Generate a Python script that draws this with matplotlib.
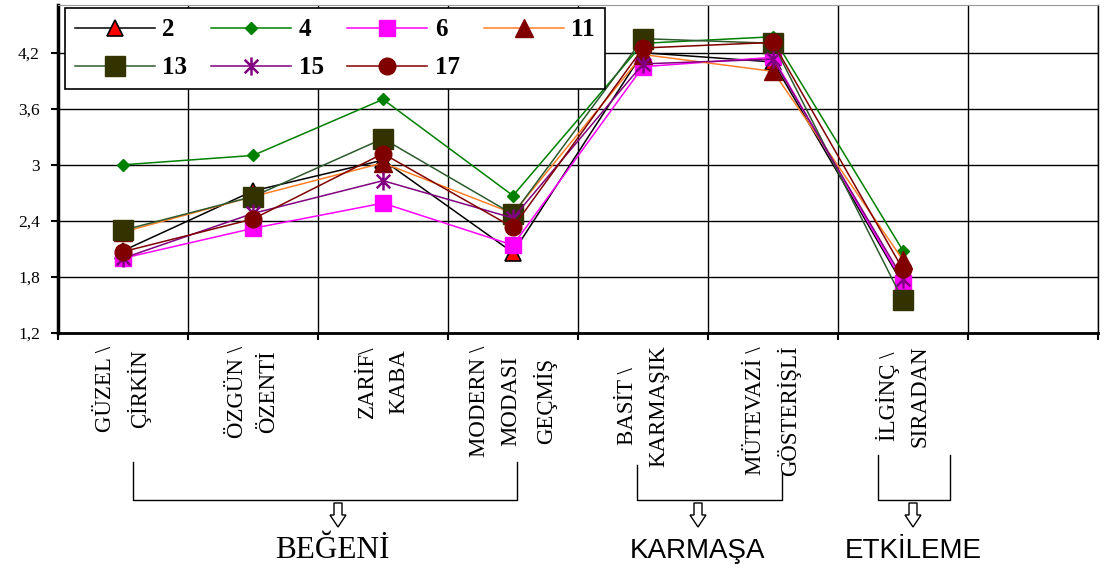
import numpy as np
import matplotlib
matplotlib.use("Agg")
import matplotlib.pyplot as plt
from matplotlib.path import Path
from matplotlib.lines import Line2D
from matplotlib.patches import Polygon
from matplotlib.ticker import FuncFormatter

# --- dane ---
kategorie = ["GÜZEL \\\nÇİRKİN", "ÖZGÜN \\\nÖZENTİ", "ZARİF\\\nKABA",
             "MODERN \\\nMODASI\nGEÇMİŞ", "BASİT \\\nKARMAŞIK",
             "MÜTEVAZİ \\\nGÖSTERİŞLİ", "İLGİNÇ \\\nSIRADAN"]
etykiety_serii = ["2", "4", "6", "11", "13", "15", "17"]
s2 = [2.08, 2.72, 3.05, 2.06, 4.20, 4.10, 1.72]
s4 = [3.00, 3.10, 3.70, 2.67, 4.30, 4.37, 2.08]
s6 = [2.00, 2.32, 2.59, 2.14, 4.05, 4.15, 1.74]
s11 = [2.28, 2.66, 3.02, 2.48, 4.18, 4.00, 1.98]
s13 = [2.30, 2.66, 3.28, 2.47, 4.35, 4.30, 1.55]
s15 = [2.00, 2.48, 2.83, 2.43, 4.08, 4.13, 1.78]
s17 = [2.07, 2.42, 3.12, 2.33, 4.25, 4.31, 1.88]
y_ticki = [1.2, 1.8, 2.4, 3.0, 3.6, 4.2]
grupy = ["BEĞENİ", "KARMAŞA", "ETKİLEME"]

W, H = 1105, 570


def fx(px):
    return px / W


def fy(py):
    return 1 - py / H


# gwiazdka jak w Excelu: pionowa kreska + X
gwiazdka = Path([(0, -1), (0, 1), (-0.75, -0.75), (0.75, 0.75), (-0.75, 0.75), (0.75, -0.75)],
                [Path.MOVETO, Path.LINETO, Path.MOVETO, Path.LINETO, Path.MOVETO, Path.LINETO])

style = [
    dict(color="black", marker="^", mfc="red", mec="black", ms=11, mew=1.2),
    dict(color="#008000", marker="D", mfc="#008000", mec="#008000", ms=6),
    dict(color="#ff00ff", marker="s", mfc="#ff00ff", mec="#ff00ff", ms=12),
    dict(color="#ff7f27", marker="^", mfc="#800000", mec="#800000", ms=13),
    dict(color="#2d5a2d", marker="s", mfc="#333300", mec="#333300", ms=14),
    dict(color="#800080", marker=gwiazdka, mfc="#800080", mec="#800080", ms=13, mew=1.8),
    dict(color="#800000", marker="o", mfc="#800000", mec="#800000", ms=12),
]

fig = plt.figure(figsize=(W / 100, H / 100), dpi=100)
ax = fig.add_axes([fx(58), fy(333), fx(1098) - fx(58), fy(5) - fy(333)])

x = np.arange(1, len(kategorie) + 1)
linie = []
for i, (dane, st) in enumerate(zip([s2, s4, s6, s11, s13, s15, s17], style)):
    (l,) = ax.plot(x, dane, lw=1.1, label=etykiety_serii[i], zorder=3 + i, **st)
    linie.append(l)

ax.set_xlim(0.5, 8.5)
ax.set_ylim(1.2, 4.71)
ax.set_yticks(y_ticki)


def fmt(v, pos):
    if abs(v - round(v)) < 1e-9:
        return str(int(round(v)))
    return f"{v:.1f}".replace(".", ",")


ax.yaxis.set_major_formatter(FuncFormatter(fmt))
ax.yaxis.grid(True, color="black", lw=1)

# etykiety kategorii rysowane ręcznie (wyśrodkowane wiersze)
ax.set_xticks([])
for xi, nazwa in zip(x, kategorie):
    ax.annotate(nazwa, xy=(xi, 0), xycoords=("data", "axes fraction"),
                xytext=(0, -9), textcoords="offset points", rotation=90,
                ha="center", va="top", multialignment="center",
                family="Liberation Serif", fontsize=16.5, linespacing=1.6)
ax.set_xticks(np.arange(0.5, 9.0, 1.0), minor=True)
ax.xaxis.grid(True, which="minor", color="black", lw=1)
ax.tick_params(axis="x", which="minor", length=5, width=1.5, direction="out")
ax.tick_params(axis="y", length=5, width=1.5, pad=8, labelsize=12.5)
for t in ax.get_yticklabels():
    t.set_family("Liberation Serif")

ax.spines["left"].set_linewidth(2.5)
ax.spines["bottom"].set_linewidth(2)
ax.spines["top"].set_color("#999999")
ax.spines["right"].set_linewidth(1)

kolejnosc = [0, 4, 1, 5, 2, 6, 3]
leg = ax.legend([linie[k] for k in kolejnosc], [etykiety_serii[k] for k in kolejnosc],
                ncol=4, loc="upper left", bbox_to_anchor=(0.0067, 0.99), borderaxespad=0,
                prop={"family": "Liberation Serif", "weight": "bold", "size": 18},
                handlelength=3.2, handletextpad=0.3, columnspacing=0.95,
                frameon=True, fancybox=False, edgecolor="black", framealpha=1,
                borderpad=0.4, labelspacing=0.6)
leg.get_frame().set_linewidth(1.2)
leg.set_zorder(20)

# --- nawiasy grupujące pod osią ---
nawiasy = [(133, 517, 462, 462), (637, 782, 465, 472), (878, 950, 455, 455)]
for xl, xr, ytl, ytr in nawiasy:
    fig.add_artist(Line2D([fx(xl), fx(xl), fx(xr), fx(xr)], [fy(ytl), fy(500), fy(500), fy(ytr)],
                          transform=fig.transFigure, color="black", lw=1))

for cx in [338, 698, 913]:
    pts = [(cx - 4, 503), (cx + 4, 503), (cx + 4, 515), (cx + 8, 515), (cx, 527),
           (cx - 8, 515), (cx - 4, 515)]
    fig.add_artist(Polygon([(fx(a), fy(b)) for a, b in pts], closed=True, transform=fig.transFigure,
                           facecolor="white", edgecolor="black", lw=1))

fig.text(fx(332), fy(551), grupy[0], ha="center", va="center", family="Liberation Serif", fontsize=22.5)
fig.text(fx(698), fy(551), grupy[1], ha="center", va="center",
         family=["Liberation Sans Narrow", "Liberation Sans"], fontsize=20)
fig.text(fx(913), fy(551), grupy[2], ha="center", va="center",
         family=["Liberation Sans Narrow", "Liberation Sans"], fontsize=20)

fig.savefig("out.png", dpi=100)
